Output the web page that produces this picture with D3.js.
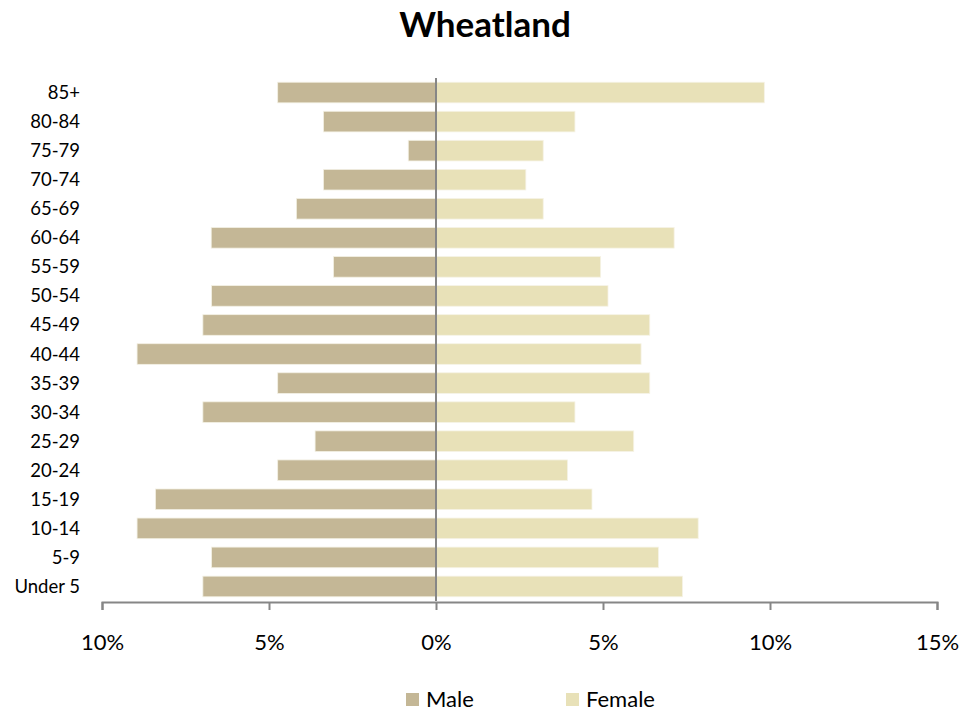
<!DOCTYPE html>
<html>
<head>
<meta charset="utf-8">
<script src="https://cdn.jsdelivr.net/npm/d3@7"></script>
<style>
  body { margin: 0; background: #fff; }
  text { font-family: Lato, "Open Sans", sans-serif; fill: #000; }
</style>
</head>
<body>
<svg width="979" height="713"></svg>
<script>
// Data
let ageGroups = ['85+', '80-84', '75-79', '70-74', '65-69', '60-64', '55-59', '50-54', '45-49',
                 '40-44', '35-39', '30-34', '25-29', '20-24', '15-19', '10-14', '5-9', 'Under 5']
let male = [4.74, 3.37, 0.83, 3.37, 4.18, 6.73, 3.07, 6.72, 6.98,
            8.95, 4.74, 6.98, 3.62, 4.74, 8.40, 8.95, 6.72, 6.98]
let female = [9.83, 4.16, 3.21, 2.69, 3.21, 7.13, 4.93, 5.15, 6.40,
              6.14, 6.40, 4.16, 5.92, 3.94, 4.67, 7.85, 6.66, 7.38]
let xTicks = [-10, -5, 0, 5, 10, 15]
let seriesNames = ['Male', 'Female']

let colors = { Male: '#c4b796', Female: '#e8e1b8' }
let axisColor = '#868686'

let svg = d3.select('svg')

let range = {
    x: [102, 937],
    y: [78, 601]
}

let scale = {
    x: d3.scaleLinear().domain([-10, 15]).range(range.x),
    y: d3.scaleBand().domain(ageGroups).range(range.y).paddingInner(0.29).paddingOuter(0.145)
}

// Title
svg.append('text')
    .attr('x', 485)
    .attr('y', 37)
    .attr('text-anchor', 'middle')
    .style('font-size', '35px')
    .style('font-weight', 'bold')
    .text('Wheatland')

// Bars
let rows = ageGroups.map((a, i) => ({ age: a, male: male[i], female: female[i] }))

svg.append('g').selectAll('rect')
    .data(rows)
    .join('rect')
    .attr('x', d => scale.x(-d.male))
    .attr('y', d => scale.y(d.age))
    .attr('width', d => scale.x(0) - scale.x(-d.male))
    .attr('height', scale.y.bandwidth())
    .attr('fill', colors.Male)
    .attr('stroke', '#f3f0e4')
    .attr('stroke-width', 0.8)

svg.append('g').selectAll('rect')
    .data(rows)
    .join('rect')
    .attr('x', scale.x(0))
    .attr('y', d => scale.y(d.age))
    .attr('width', d => scale.x(d.female) - scale.x(0))
    .attr('height', scale.y.bandwidth())
    .attr('fill', colors.Female)
    .attr('stroke', '#f6f3e6')
    .attr('stroke-width', 0.8)

// Category labels
svg.append('g').selectAll('text')
    .data(ageGroups)
    .join('text')
    .attr('x', 80)
    .attr('y', d => scale.y(d) + scale.y.bandwidth() / 2)
    .attr('dy', '0.35em')
    .attr('text-anchor', 'end')
    .style('font-size', '18.5px')
    .text(d => d)

// Zero line
svg.append('line')
    .attr('x1', scale.x(0)).attr('x2', scale.x(0))
    .attr('y1', range.y[0]).attr('y2', range.y[1])
    .attr('stroke', axisColor)
    .attr('stroke-width', 2)

// X axis
let xAxis = svg.append('g')
    .attr('transform', `translate(0,${range.y[1] + 1})`)
    .call(d3.axisBottom(scale.x).tickValues(xTicks).tickSizeOuter(0).tickSize(8).tickPadding(24)
        .tickFormat(d => Math.abs(d) + '%'))

xAxis.select('.domain').attr('stroke', axisColor).attr('stroke-width', 2)
xAxis.selectAll('.tick line').attr('stroke', axisColor).attr('stroke-width', 2)
xAxis.selectAll('.tick text')
    .style('font-size', '22px')
    .style('font-family', 'Lato, "Open Sans", sans-serif')
    .attr('fill', '#000')

// Legend
let legendX = [406, 566]
let legend = svg.append('g').selectAll('g')
    .data(seriesNames)
    .join('g')
    .attr('transform', (d, i) => `translate(${legendX[i]},693)`)

legend.append('rect')
    .attr('width', 13)
    .attr('height', 13)
    .attr('fill', d => colors[d])

legend.append('text')
    .attr('x', 20)
    .attr('y', 14)
    .style('font-size', '22px')
    .text(d => d)
</script>
</body>
</html>
